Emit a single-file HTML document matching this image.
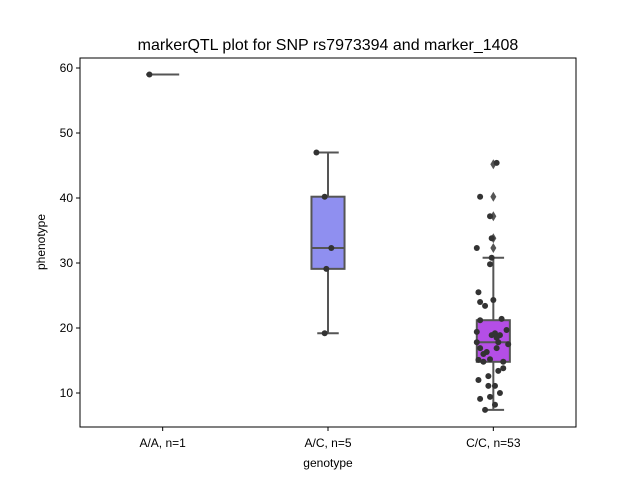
<!DOCTYPE html>
<html><head><meta charset="utf-8"><style>
body{margin:0;background:#fff}
svg{font-family:"Liberation Sans",sans-serif;display:block}
</style></head><body>
<svg id="c" width="640" height="480"></svg>
<script>
const categories=["A/A, n=1","A/C, n=5","C/C, n=53"];
const boxColors=["#8f8ff0","#8f8ff0","#b44ee6"];
const q1=[59,29.1,14.8];
const med=[59,32.3,17.8];
const q3=[59,40.2,21.2];
const whiskLo=[59,19.2,7.4];
const whiskHi=[59,47,30.8];
const fliers=[[],[],[45.2,40.2,37.2,33.8,32.3]];
const pts=[[59],[47,40.2,32.3,29.1,19.2],
[45.4,40.2,37.2,33.8,32.3,30.8,29.8,25.5,24.3,24.0,23.4,21.4,21.2,19.7,19.4,18.9,19.2,18.9,18.5,17.8,17.8,17.5,16.9,16.9,16.3,16.0,15.2,15.1,14.8,14.8,13.8,13.4,12.6,12.0,11.1,11.1,10.0,9.4,9.1,8.2,7.4]];
const jit=[[-0.08],[-0.07,-0.02,0.02,-0.01,-0.02],
[0.02,-0.08,-0.02,-0.01,-0.1,-0.01,-0.02,-0.09,0,-0.08,-0.05,0.05,-0.08,0.08,-0.1,-0.01,0.01,0.04,0.02,0.03,-0.1,0.09,0.02,-0.08,-0.04,-0.06,-0.02,-0.09,-0.06,0.06,0.06,0.03,-0.03,-0.09,-0.03,0.01,0.04,-0.02,-0.08,0.01,-0.05]];
const yTicks=[10,20,30,40,50,60];
const L=80,R=576,T=58,B=427;
const bw=(R-L)/categories.length;
const xs=i=>L+bw*(i+0.5);
const ys=v=>393-(v-10)*6.5;
const s=document.getElementById('c');const NS="http://www.w3.org/2000/svg";
function el(t,a,p){const e=document.createElementNS(NS,t);for(const k in a)e.setAttribute(k,a[k]);(p||s).appendChild(e);return e;}
let t=el('text',{x:328,y:50,'text-anchor':'middle','font-size':16,fill:'#000'});t.textContent="markerQTL plot for SNP rs7973394 and marker_1408";

const g=el('g',{});
categories.forEach((c,i)=>{
 const x=xs(i),w=bw*0.2,col="#555";
 let gg=el('g',{},g);
 el('line',{x1:x,x2:x,y1:ys(whiskHi[i]),y2:ys(q3[i]),stroke:col,'stroke-width':2},gg);
 el('line',{x1:x,x2:x,y1:ys(whiskLo[i]),y2:ys(q1[i]),stroke:col,'stroke-width':2},gg);
 el('line',{x1:x-w/2*0.65,x2:x+w/2*0.65,y1:ys(whiskHi[i]),y2:ys(whiskHi[i]),stroke:col,'stroke-width':2},gg);
 el('line',{x1:x-w/2*0.65,x2:x+w/2*0.65,y1:ys(whiskLo[i]),y2:ys(whiskLo[i]),stroke:col,'stroke-width':2},gg);
 el('rect',{x:x-w/2,y:ys(q3[i]),width:w,height:Math.max(0,ys(q1[i])-ys(q3[i])),fill:boxColors[i],stroke:col,'stroke-width':2},gg);
 el('line',{x1:x-w/2,x2:x+w/2,y1:ys(med[i]),y2:ys(med[i]),stroke:col,'stroke-width':2},gg);
 fliers[i].forEach(v=>{const y=ys(v);let d=el('path',{d:`M${x} ${y-5}L${x+3} ${y}L${x} ${y+5}L${x-3} ${y}Z`,fill:col},gg);
  });
 pts[i].forEach((v,j)=>{let p=el('circle',{cx:x+jit[i][j]*bw,cy:ys(v),r:3,fill:"#333"},gg);
  });
 let tl=el('text',{x:x,y:447,'text-anchor':'middle','font-size':12});tl.textContent=c;
 
 el('line',{x1:x,x2:x,y1:B,y2:B+4,stroke:'#000'});
});
yTicks.forEach(v=>{const y=ys(v);el('line',{x1:L-4,x2:L,y1:y,y2:y,stroke:'#000'});
 let tl=el('text',{x:L-7,y:y+4,'text-anchor':'end','font-size':12});tl.textContent=v;
 });
let f=el('rect',{x:L,y:T,width:R-L,height:B-T,fill:'none',stroke:'#000','stroke-width':1});

let xl=el('text',{x:328,y:467,'text-anchor':'middle','font-size':12});xl.textContent="genotype";

let yl=el('text',{x:45,y:242,'text-anchor':'middle','font-size':12,transform:'rotate(-90 45 242)'});yl.textContent="phenotype";

</script>
</body></html>
